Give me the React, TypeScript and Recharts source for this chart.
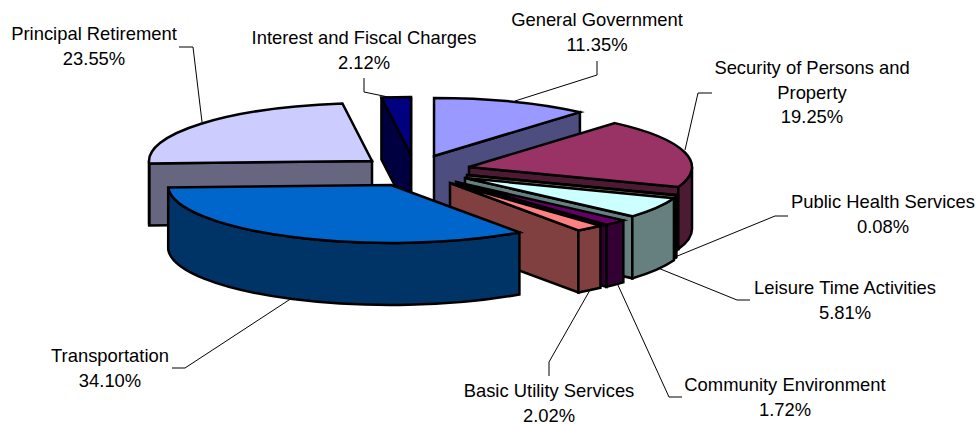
import React from "react";
import { PieChart, Pie } from "recharts";

// listed back to front so the later slices paint over the earlier ones
const categories = [
  "Principal Retirement",
  "Interest and Fiscal Charges",
  "General Government",
  "Security of Persons and Property",
  "Public Health Services",
  "Leisure Time Activities",
  "Community Environment",
  "Basic Utility Services",
  "Transportation",
];
const shares = [23.55, 2.12, 11.35, 19.25, 0.08, 5.81, 1.72, 2.02, 34.1];

const labelLines = [
  ["Principal Retirement"],
  ["Interest and Fiscal Charges"],
  ["General Government"],
  ["Security of Persons and", "Property"],
  ["Public Health Services"],
  ["Leisure Time Activities"],
  ["Community Environment"],
  ["Basic Utility Services"],
  ["Transportation"],
];

const topColors = ["#CCCCFF", "#000080", "#9999FF", "#993366", "#FFFFCC", "#CCFFFF", "#660066", "#FF8080", "#0066CC"];
const sideColors = ["#666680", "#000040", "#4D4D80", "#4D1A33", "#808066", "#668080", "#330033", "#804040", "#003366"];

// exploded slice offsets from the pie centre
const CX = 430;
const CY = 160;
const explode = [
  [-58, 1],
  [-19, -5],
  [4, -4],
  [39, 7],
  [37, 15],
  [35, 18],
  [26, 22],
  [20, 23],
  [-39, 25],
];

const labelAnchors = [
  [94, 40],
  [364, 44],
  [597, 26],
  [812, 74],
  [883, 208],
  [845, 294],
  [785, 391],
  [549, 397],
  [110, 362],
];
const leaders = [
  "M202 122L193 47L179 47",
  "M393 98L364 92L364 78",
  "M515 101L597 75L597 61",
  "M685 150L698 93L712 93",
  "M675 257L775 216L788 216",
  "M658 268L737 300L750 300",
  "M617 283L669 397L682 397",
  "M590 290L549 362L549 376",
  "M292 298L185 368L172 368",
];

const RX = 223;
const RY = 58;
const DEPTH = 62;
const FONT = "'Liberation Sans', Arial, sans-serif";

const data = categories.map((name, i) => ({ name, value: shares[i] }));

// phi = clockwise degrees from 12 o'clock
const rimPoint = (x: number, y: number, phi: number) => {
  const r = (phi * Math.PI) / 180;
  return [x + RX * Math.sin(r), y - RY * Math.cos(r)];
};

function Slice3D(props: any) {
  const { startAngle, endAngle, index } = props;
  const x = CX + explode[index][0];
  const y = CY + explode[index][1];
  const phi0 = 90 - startAngle;
  const phi1 = 90 - endAngle;
  const p0 = rimPoint(x, y, phi0);
  const p1 = rimPoint(x, y, phi1);
  const pm = rimPoint(x, y, (phi0 + phi1) / 2);
  const large = phi1 - phi0 > 180 ? 1 : 0;
  const edge = { stroke: "#000", strokeWidth: 2.5, strokeLinejoin: "miter" as const };

  // a radial wall shows only when the slice lies behind it on screen
  const faces = [p0, p1]
    .filter((p) => {
      const ex = p[0] - x;
      const ey = p[1] - y;
      const nx = ex >= 0 ? ey : -ey;
      const ny = ex >= 0 ? -ex : ex;
      return (pm[0] - x) * nx + (pm[1] - y) * ny > 0;
    })
    .map((p) => `M${x} ${y}L${p[0]} ${p[1]}L${p[0]} ${p[1] + DEPTH}L${x} ${y + DEPTH}Z`);

  // outer wall, front half of the ellipse only
  const rims: string[] = [];
  [0, 360, -360].forEach((turn) => {
    const lo = Math.max(phi0, 90 + turn);
    const hi = Math.min(phi1, 270 + turn);
    if (lo < hi) {
      const a = rimPoint(x, y, lo);
      const b = rimPoint(x, y, hi);
      rims.push(
        `M${a[0]} ${a[1]}A${RX} ${RY} 0 0 1 ${b[0]} ${b[1]}L${b[0]} ${b[1] + DEPTH}A${RX} ${RY} 0 0 0 ${a[0]} ${a[1] + DEPTH}Z`,
      );
    }
  });

  const top = `M${x} ${y}L${p0[0]} ${p0[1]}A${RX} ${RY} 0 ${large} 1 ${p1[0]} ${p1[1]}Z`;
  return (
    <g>
      {faces.map((d, i) => (
        <path key={`f${i}`} d={d} fill={sideColors[index]} {...edge} />
      ))}
      {rims.map((d, i) => (
        <path key={`r${i}`} d={d} fill={sideColors[index]} {...edge} />
      ))}
      <path d={top} fill={topColors[index]} {...edge} />
    </g>
  );
}

function SliceLabel(props: any) {
  const { index, value } = props;
  const [tx, ty] = labelAnchors[index];
  const lines = [...labelLines[index], `${value.toFixed(2)}%`];
  return (
    <g>
      <path d={leaders[index]} fill="none" stroke="#000" strokeWidth={1} />
      {lines.map((line, i) => (
        <text key={i} x={tx} y={ty + i * 24.5} textAnchor="middle" fontFamily={FONT} fontSize={18.4} fill="#000">
          {line}
        </text>
      ))}
    </g>
  );
}

export default function App() {
  return (
    <div style={{ position: "absolute", left: 0, top: 0, width: 979, height: 424, background: "#fff" }}>
      <PieChart width={979} height={424} margin={{ top: 0, right: 0, bottom: 0, left: 0 }}>
        <Pie
          data={data}
          dataKey="value"
          nameKey="name"
          cx={CX}
          cy={CY}
          outerRadius={RX}
          startAngle={-177.6}
          endAngle={-537.6}
          stroke="none"
          shape={Slice3D}
          label={SliceLabel}
          labelLine={false}
          isAnimationActive={false}
        />
      </PieChart>
    </div>
  );
}
